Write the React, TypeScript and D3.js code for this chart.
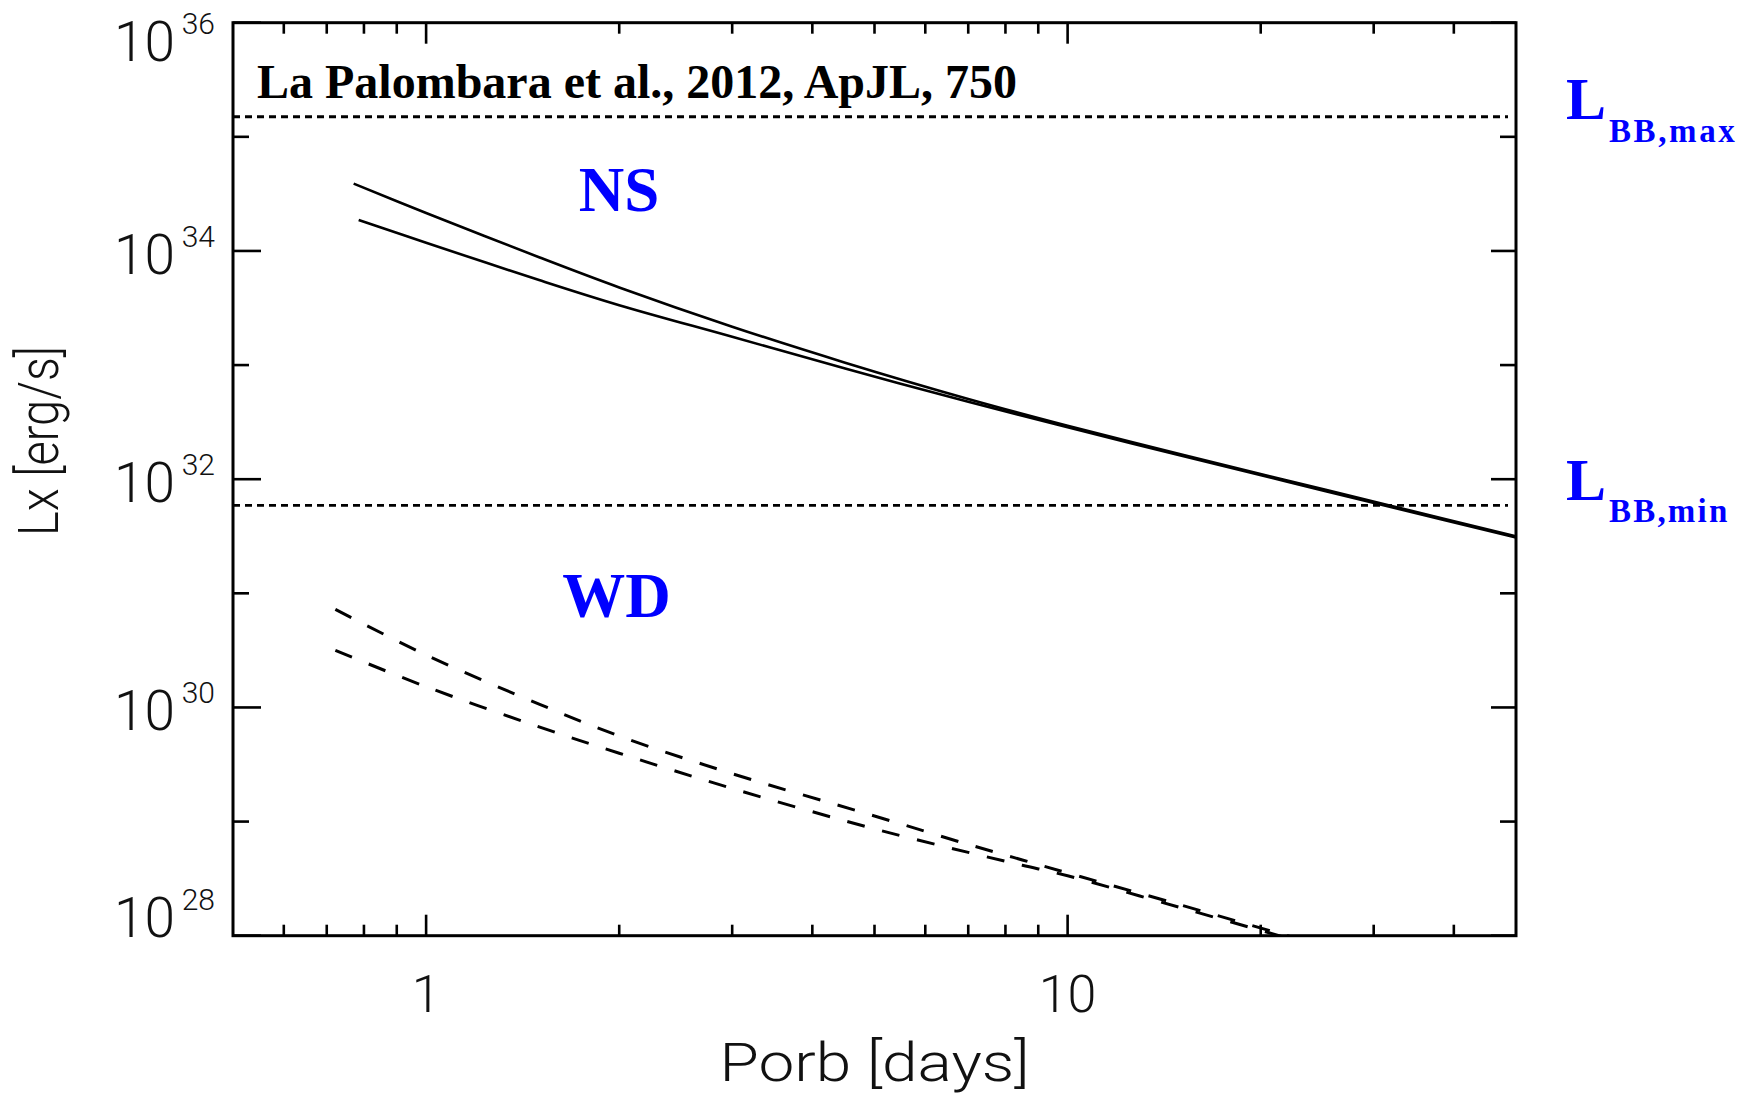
import React from "react";
import * as d3 from "d3";

// ---------------- data ----------------
// Orbital period (days) and X-ray luminosity (erg/s)
const nsUpperPorb = [0.771, 1.0, 1.5, 2.0, 3.0, 4.5, 7.0, 10, 15, 22, 32, 50];
const nsUpperLx = [3.89e34, 2.15e34, 8.81e33, 4.79e33, 2.17e33, 1.05e33, 5.05e32, 2.94e32, 1.65e32, 9.75e31, 5.83e31, 3.16e31];

const nsLowerPorb = [0.785, 1.0, 1.5, 2.0, 3.0, 4.5, 7.0, 10, 15, 22, 32, 50];
const nsLowerLx = [1.87e34, 1.18e34, 5.56e33, 3.35e33, 1.77e33, 9.33e32, 4.76e32, 2.86e32, 1.61e32, 9.5e31, 5.68e31, 3.08e31];

const wdUpperPorb = [0.722, 1.0, 1.5, 2.0, 3.0, 5.0, 7.0, 8.5, 10, 15, 22, 24];
const wdUpperLx = [7.24e30, 2.88e30, 1.07e30, 5.62e29, 2.63e29, 1.12e29, 6.31e28, 4.61e28, 3.55e28, 1.86e28, 1.0e28, 8.7e27];

const wdLowerPorb = [0.722, 1.0, 1.5, 2.0, 3.0, 5.0, 7.0, 8.5, 10, 15, 22, 24];
const wdLowerLx = [3.16e30, 1.52e30, 6.76e29, 3.97e29, 1.95e29, 8.63e28, 5.37e28, 4.14e28, 3.35e28, 1.76e28, 9.55e27, 8.3e27];

const lbbMax = 1.5e35;
const lbbMin = 5.9e31;

const xDomain = [0.5, 50];
const yDomain = [1e28, 1e36];
const xMajorTicks = [1, 10];
const xMinorTicks = [0.6, 0.7, 0.8, 0.9, 2, 3, 4, 5, 6, 7, 8, 9, 20, 30, 40];
const yMajorExps = [28, 30, 32, 34, 36];
const yMinorExps = [29, 31, 33, 35];

const citation = "La Palombara et al., 2012, ApJL, 750";
const xTitle = "Porb [days]";
const yTitle = "Lx [erg/s]";

// ---------------- layout ----------------
const W = 1739;
const H = 1095;
const PL = 233;
const PR = 1516;
const PT = 22.7;
const PB = 935.7;

export default function App() {
  const x = d3.scaleLog().domain(xDomain).range([PL, PR]);
  const y = d3.scaleLog().domain(yDomain).range([PB, PT]);

  const line = d3
    .line<[number, number]>()
    .x((d) => x(d[0]))
    .y((d) => y(d[1]))
    .curve(d3.curveCatmullRom.alpha(0.5));

  const zip = (a: number[], b: number[]) => a.map((v, i) => [v, b[i]] as [number, number]);

  const tickFont = "Roboto, 'DejaVu Sans', sans-serif";
  const serif = "'Liberation Serif', 'DejaVu Serif', serif";
  const blue = "#0000ff";

  return (
    <svg
      width={W}
      height={H}
      viewBox={`0 0 ${W} ${H}`}
      style={{ position: "absolute", left: 0, top: 0, background: "#fff" }}
    >
      <defs>
        <clipPath id="plotclip">
          <rect x={PL} y={PT} width={PR - PL} height={PB - PT} />
        </clipPath>
      </defs>
      <rect x={0} y={0} width={W} height={H} fill="#fff" />

      {/* reference dotted lines */}
      <g clipPath="url(#plotclip)">
        {[lbbMax, lbbMin].map((v, i) => (
          <line
            key={i}
            x1={x(xDomain[0])}
            x2={x(xDomain[1]) - 8}
            y1={y(v)}
            y2={y(v)}
            stroke="#000"
            strokeWidth={2.8}
            strokeDasharray="7 5"
          />
        ))}
        {/* NS solid curves */}
        <path d={line(zip(nsUpperPorb, nsUpperLx)) || ""} fill="none" stroke="#000" strokeWidth={2.6} />
        <path d={line(zip(nsLowerPorb, nsLowerLx)) || ""} fill="none" stroke="#000" strokeWidth={2.6} />
        {/* WD dashed curves */}
        <path
          d={line(zip(wdUpperPorb, wdUpperLx)) || ""}
          fill="none"
          stroke="#000"
          strokeWidth={3}
          strokeDasharray="18 18"
        />
        <path
          d={line(zip(wdLowerPorb, wdLowerLx)) || ""}
          fill="none"
          stroke="#000"
          strokeWidth={3}
          strokeDasharray="18 18"
        />
      </g>

      {/* ticks */}
      <g stroke="#000" strokeWidth={2.6}>
        {xMajorTicks.map((t) => (
          <g key={"xM" + t}>
            <line x1={x(t)} x2={x(t)} y1={PB} y2={PB - 21} />
            <line x1={x(t)} x2={x(t)} y1={PT} y2={PT + 21} />
          </g>
        ))}
        {xMinorTicks.map((t) => (
          <g key={"xm" + t}>
            <line x1={x(t)} x2={x(t)} y1={PB} y2={PB - 11} />
            <line x1={x(t)} x2={x(t)} y1={PT} y2={PT + 11} />
          </g>
        ))}
        {yMajorExps.map((e) => (
          <g key={"yM" + e}>
            <line x1={PL} x2={PL + 28} y1={y(Math.pow(10, e))} y2={y(Math.pow(10, e))} />
            <line x1={PR} x2={PR - 25} y1={y(Math.pow(10, e))} y2={y(Math.pow(10, e))} />
          </g>
        ))}
        {yMinorExps.map((e) => (
          <g key={"ym" + e}>
            <line x1={PL} x2={PL + 16} y1={y(Math.pow(10, e))} y2={y(Math.pow(10, e))} />
            <line x1={PR} x2={PR - 16} y1={y(Math.pow(10, e))} y2={y(Math.pow(10, e))} />
          </g>
        ))}
      </g>

      {/* frame */}
      <rect x={PL} y={PT} width={PR - PL} height={PB - PT} fill="none" stroke="#000" strokeWidth={3} />

      {/* y tick labels */}
      {yMajorExps.map((e) => {
        const ty = y(Math.pow(10, e));
        const base = Math.min(Math.max(ty + 23, 61), 937);
        return (
          <g key={"yl" + e} fill="#111" fontFamily={tickFont} fontWeight={300}>
            <text x={175} y={base} textAnchor="end" fontSize={55}>
              10
            </text>
            <text x={215} y={base - 27} textAnchor="end" fontSize={30}>
              {e}
            </text>
          </g>
        );
      })}

      {/* x tick labels */}
      {xMajorTicks.map((t) => (
        <text
          key={"xl" + t}
          x={x(t)}
          y={1012}
          textAnchor="middle"
          fontSize={52}
          fontFamily={tickFont}
          fontWeight={300}
          fill="#111"
        >
          {t}
        </text>
      ))}

      {/* axis titles */}
      <text
        x={(PL + PR) / 2}
        y={1081}
        textAnchor="middle"
        fontSize={54}
        fontFamily={tickFont}
        fontWeight={300}
        fill="#111"
        textLength={310}
        lengthAdjust="spacingAndGlyphs"
      >
        {xTitle}
      </text>
      <text
        transform={`translate(58, 441) rotate(-90)`}
        textAnchor="middle"
        fontSize={56}
        fontFamily={tickFont}
        fontWeight={300}
        fill="#111"
        textLength={190}
        lengthAdjust="spacingAndGlyphs"
      >
        {yTitle}
      </text>

      {/* annotations */}
      <text x={257} y={98} fontSize={48} fontWeight="bold" fontFamily={serif} fill="#000">
        {citation}
      </text>
      <text x={x(1.73)} y={211} fontSize={63} fontWeight="bold" fontFamily={serif} fill={blue}>
        NS
      </text>
      <text x={x(1.63)} y={617} fontSize={63} fontWeight="bold" fontFamily={serif} fill={blue}>
        WD
      </text>

      <g fontFamily={serif} fontWeight="bold" fill={blue}>
        <text x={PR + 50} y={y(lbbMax) + 2} fontSize={60}>
          L
        </text>
        <text x={PR + 93} y={y(lbbMax) + 25} fontSize={33} letterSpacing={2.6}>
          BB,max
        </text>
        <text x={PR + 50} y={y(lbbMin) - 5} fontSize={60}>
          L
        </text>
        <text x={PR + 93} y={y(lbbMin) + 17} fontSize={33} letterSpacing={2.2}>
          BB,min
        </text>
      </g>
    </svg>
  );
}
